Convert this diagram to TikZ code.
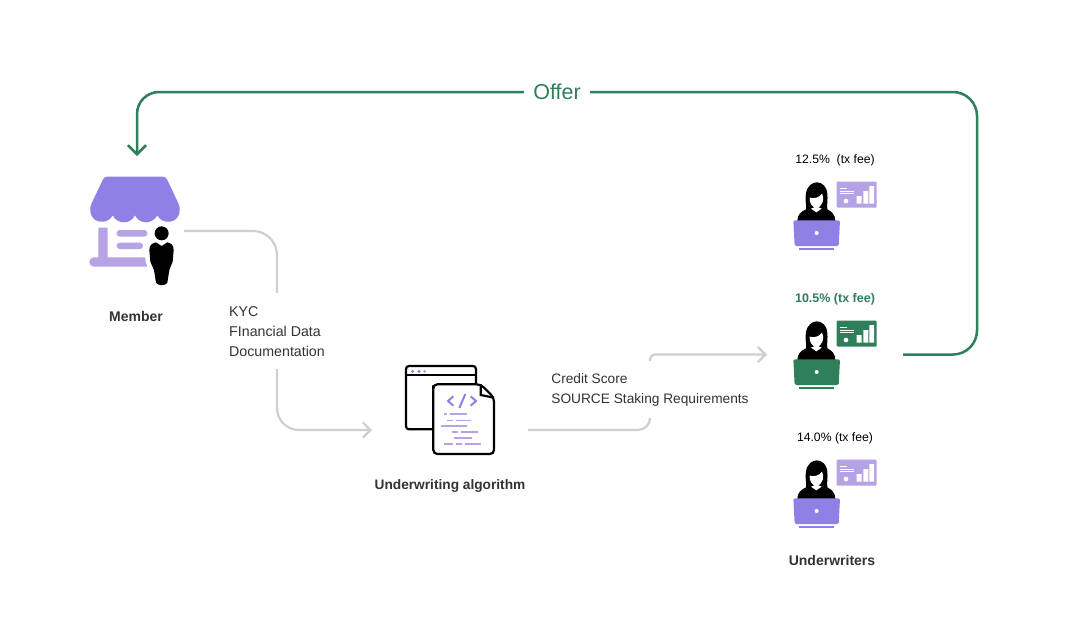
\documentclass[tikz,border=0pt]{standalone}
\usepackage{fontspec}
\setmainfont{Liberation Sans}
\usetikzlibrary{arrows.meta}
\definecolor{grn}{HTML}{2F7F5B}
\definecolor{pur}{HTML}{8F80E6}
\definecolor{lpur}{HTML}{B6A3E6}
\definecolor{gry}{HTML}{CFCFCF}
\definecolor{ink}{HTML}{333333}
\tikzset{
  box/.style={inner sep=0pt,outer sep=0pt,draw=none},
  graybar/.style={draw=gry,line width=2.2pt},
  greenbar/.style={draw=grn,line width=2.5pt},
  tipgray/.style={-{Straight Barb[length=7.5pt,width=15pt,line width=2.2pt]}},
  tipgreen/.style={-{Straight Barb[length=9pt,width=18pt,line width=2.5pt]}},
  lbl/.style={font=\fontsize{14.2}{20}\selectfont,text=ink,align=left,inner xsep=0pt},
  lblwide/.style={font=\fontsize{13.7}{20}\selectfont,text=ink,align=left,inner xsep=0pt},
  ttl/.style={font=\fontsize{14}{17}\selectfont\bfseries,text=ink,inner sep=0pt},
  fee/.style={font=\fontsize{12.2}{15}\selectfont,text=black,inner sep=0pt},
  codebar/.style={draw=lpur,line width=1.5pt},
  pics/worker/.style 2 args={code={
    \begin{scope}[scale=1/3,shift={(-111,-276)}]
      % chart panel
      \fill[#2,rounded corners=1pt] (170,122) rectangle (290,200);
      \draw[white,line width=0.9pt] (180,143) -- (200,143) (180,150) -- (222,150) (180,158) -- (222,158);
      \fill[white] (198,180) circle (7);
      \fill[white] (230,165) rectangle (245,188) (250,150) rectangle (265,188) (268,135) rectangle (282,188);
      % body and hair
      \fill[black] (52,240) .. controls (52,222) and (62,212) .. (78,205)
        .. controls (80,190) and (74,175) .. (78,156) .. controls (82,134) and (98,124) .. (110,124)
        .. controls (126,124) and (140,136) .. (142,158) .. controls (144,175) and (140,190) .. (142,205)
        .. controls (156,212) and (166,222) .. (166,240) -- cycle;
      % face
      \fill[white] (89,170) .. controls (102,174) and (118,170) .. (126,158)
        .. controls (134,172) and (130,192) .. (110,203) .. controls (97,198) and (87,186) .. (89,170) -- cycle;
      \fill[white] (93,203) -- (109,214) -- (125,203) -- (110,196) -- cycle;
      % laptop
      \fill[#1,rounded corners=1.5pt] (40,238) -- (180,238) -- (176,315) -- (44,315) -- cycle;
      \fill[#1] (58,321) rectangle (162,327);
      \fill[white] (110,276) circle (6);
    \end{scope}
  }}
}
\begin{document}
\begin{tikzpicture}[x=1pt,y=-1pt]
\useasboundingbox (0,0) rectangle (1068,630);
\fill[white] (0,0) rectangle (1068,630);

% anchor nodes (invisible frames around icons and labels)
\node[box,minimum width=94pt,minimum height=110pt] (member) at (137,231) {};
\node[box,minimum width=156pt,minimum height=48pt] (algo) at (450,430) {};
\node[box,minimum width=136pt,minimum height=20pt] (uwmid) at (835,354.5) {};

\node[lbl,inner ysep=10pt,anchor=center] (docs) at (277,332) {KYC\\FInancial Data\\Documentation};
\node[lblwide,inner ysep=12pt,anchor=center] (credit) at (650,389.5) {Credit Score\\SOURCE Staking Requirements};
\node[font=\fontsize{21.5}{24}\selectfont,text=grn,inner sep=0pt,minimum width=66pt] (offer) at (557,92) {Offer};

% store icon
\begin{scope}[shift={(70,130)},scale=1/3]
  \fill[pur] (112,140) -- (278,140) .. controls (285,140) and (289,143) .. (292,150) -- (326,222)
    .. controls (335,245) and (325,272) .. (300,275) .. controls (280,277) and (268,268) .. (262,256)
    .. controls (255,270) and (240,277) .. (228,277) .. controls (215,277) and (202,270) .. (195,256)
    .. controls (188,270) and (175,277) .. (162,277) .. controls (148,277) and (135,270) .. (128,256)
    .. controls (122,268) and (110,277) .. (90,275) .. controls (65,272) and (55,245) .. (64,222)
    -- (98,150) .. controls (101,143) and (105,140) .. (112,140) -- cycle;
  \fill[lpur] (85,293) -- (113,293) -- (113,382) -- (225,382) .. controls (226,392) and (228,402) .. (232,410)
    -- (72,410) arc[start angle=90,end angle=270,radius=14] -- (85,382) -- cycle;
  \fill[lpur,rounded corners=3pt] (140,300) rectangle (232,320);
  \fill[lpur,rounded corners=3pt] (140,338) rectangle (219,357);
  \fill[black] (275,310) circle (21);
  \fill[black] (258,337) -- (275,348) -- (292,337) .. controls (304,340) and (311,345) .. (311,360)
    -- (308,395) .. controls (306,405) and (300,410) .. (298,420) -- (292,458)
    .. controls (288,468) and (262,468) .. (258,458) -- (252,420)
    .. controls (250,410) and (243,405) .. (241,395) -- (238,360)
    .. controls (238,345) and (246,340) .. (258,337) -- cycle;
\end{scope}

% algorithm icon
\begin{scope}[shift={(390,350)},scale=1/3]
  \draw[black,line width=2.2pt,rounded corners=3pt] (48,48) rectangle (258,238);
  \draw[black,line width=2.2pt] (48,75) -- (258,75);
  \fill[pur] (68,64) circle (5) (87,64) circle (5);
  \fill[lpur] (104,64) circle (5);
  \draw[black,fill=white,line width=2.2pt,rounded corners=4pt] (130,118) -- (130,103) -- (272,103) -- (312,143) -- (312,312) -- (130,312) -- cycle;
  \draw[black,line width=2.2pt] (272,103) -- (272,135) -- (312,143);
  \draw[pur,line width=2pt] (190,139) -- (174,153) -- (190,167)
    (242,139) -- (258,153) -- (242,167);
  \draw[pur,line width=2pt] (226,132) -- (208,174);
  \foreach \a/\b/\r in {163/172/192,180/232/192,172/188/211,197/242/211,153/232/228,185/203/246,212/265/246,193/246/264,163/188/282,197/215/282,225/272/282}
    \draw[codebar] (\a,\r) -- (\b,\r);
\end{scope}

% underwriters
\pic at (817,233) {worker={pur}{lpur}};
\pic at (817,372) {worker={grn}{grn}};
\pic at (817,511) {worker={pur}{lpur}};

% text labels
\node[ttl] (mlabel) at (136,316) {Member};
\node[ttl,font=\fontsize{13.7}{17}\selectfont\bfseries] (alabel) at (450,486) {Underwriting algorithm};
\node[ttl] (ulabel) at (832,560) {Underwriters};
\node[fee] (fee1) at (835,160) {12.5\%\ \ (tx fee)};
\node[fee,text=grn,font=\fontsize{12.5}{15}\selectfont\bfseries] (fee2) at (835,299) {10.5\% (tx fee)};
\node[fee] (fee3) at (835,438.5) {14.0\% (tx fee)};

% connectors
\draw[graybar,rounded corners=24pt,shorten >=4pt] (member.east) -| (docs.north);
\draw[graybar,tipgray,rounded corners=22pt,shorten <=2pt] (docs.south) |- (algo.west);
\draw[graybar,rounded corners=12pt] (algo.east) -| (credit.south);
\draw[graybar,tipgray,rounded corners=5pt] (credit.north) |- (uwmid.west);
\draw[greenbar,tipgreen,rounded corners=22pt,shorten >=20pt] (offer.west) -| (member.north);
\draw[greenbar,rounded corners=24pt] (offer.east) -- (977,92) |- (uwmid.east);
\end{tikzpicture}
\end{document}
